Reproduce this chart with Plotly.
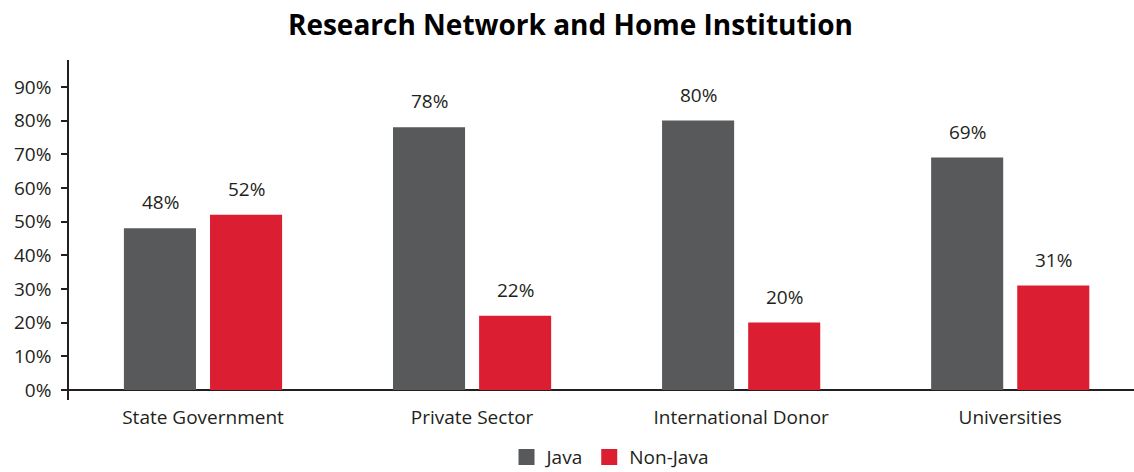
import plotly.graph_objects as go

# Share of research network by home institution, Java vs. Non-Java
categories = ["State Government", "Private Sector", "International Donor", "Universities"]
java = [0.48, 0.78, 0.80, 0.69]
non_java = [0.52, 0.22, 0.20, 0.31]
series_names = ["Java", "Non-Java"]
y_ticks = [0, 0.1, 0.2, 0.3, 0.4, 0.5, 0.6, 0.7, 0.8, 0.9]

GRAY = "#58595b"
RED = "#dc1e32"
AXIS = "#231f20"
FONT = "Open Sans"

fig = go.Figure()
for name, vals, col in [(series_names[0], java, GRAY), (series_names[1], non_java, RED)]:
    fig.add_trace(go.Bar(x=categories, y=vals, name=name, marker_color=col,
                         marker_line_width=0, showlegend=False))
    # larger square legend swatches
    fig.add_trace(go.Scatter(x=[None], y=[None], mode="markers", name=name,
                             marker=dict(symbol="square", size=20, color=col)))

# value labels above each bar
for vals, shift in [(java, -43), (non_java, 43)]:
    for cat, v in zip(categories, vals):
        fig.add_annotation(x=cat, y=v, text=f"{round(v * 100)}%", showarrow=False,
                           xshift=shift, yshift=26, font=dict(size=19, color="#231f20", family=FONT))

fig.update_layout(
    width=1134, height=472,
    margin=dict(l=69, r=0, t=60, b=72, autoexpand=False),
    paper_bgcolor="white", plot_bgcolor="white",
    title=dict(text="<b>Research Network and Home Institution</b>", x=0.503, xanchor="center",
               y=0.947, yanchor="middle", font=dict(size=28, color="black", family=FONT)),
    barmode="group", bargap=0.36, bargroupgap=0.163,
    font=dict(family=FONT, size=19, color="#231f20"),
    legend=dict(orientation="h", x=0.508, xanchor="center", y=-0.168, yanchor="middle",
                font=dict(size=19), itemwidth=30, tracegroupgap=0),
    xaxis=dict(range=[-0.498, 3.46], showline=False, ticks="", showgrid=False,
               tickfont=dict(size=19), ticklabelstandoff=4, automargin=False),
    yaxis=dict(range=[-0.03, 0.98], tickvals=y_ticks, tickformat=".0%", showgrid=False,
               showline=True, linecolor=AXIS, linewidth=1.5, ticks="outside", ticklen=6,
               tickcolor=AXIS, tickwidth=1.5, zeroline=True, zerolinecolor=AXIS,
               zerolinewidth=1.5, tickfont=dict(size=19), ticklabelstandoff=6,
               automargin=False),
)

fig.write_html("out.html")
